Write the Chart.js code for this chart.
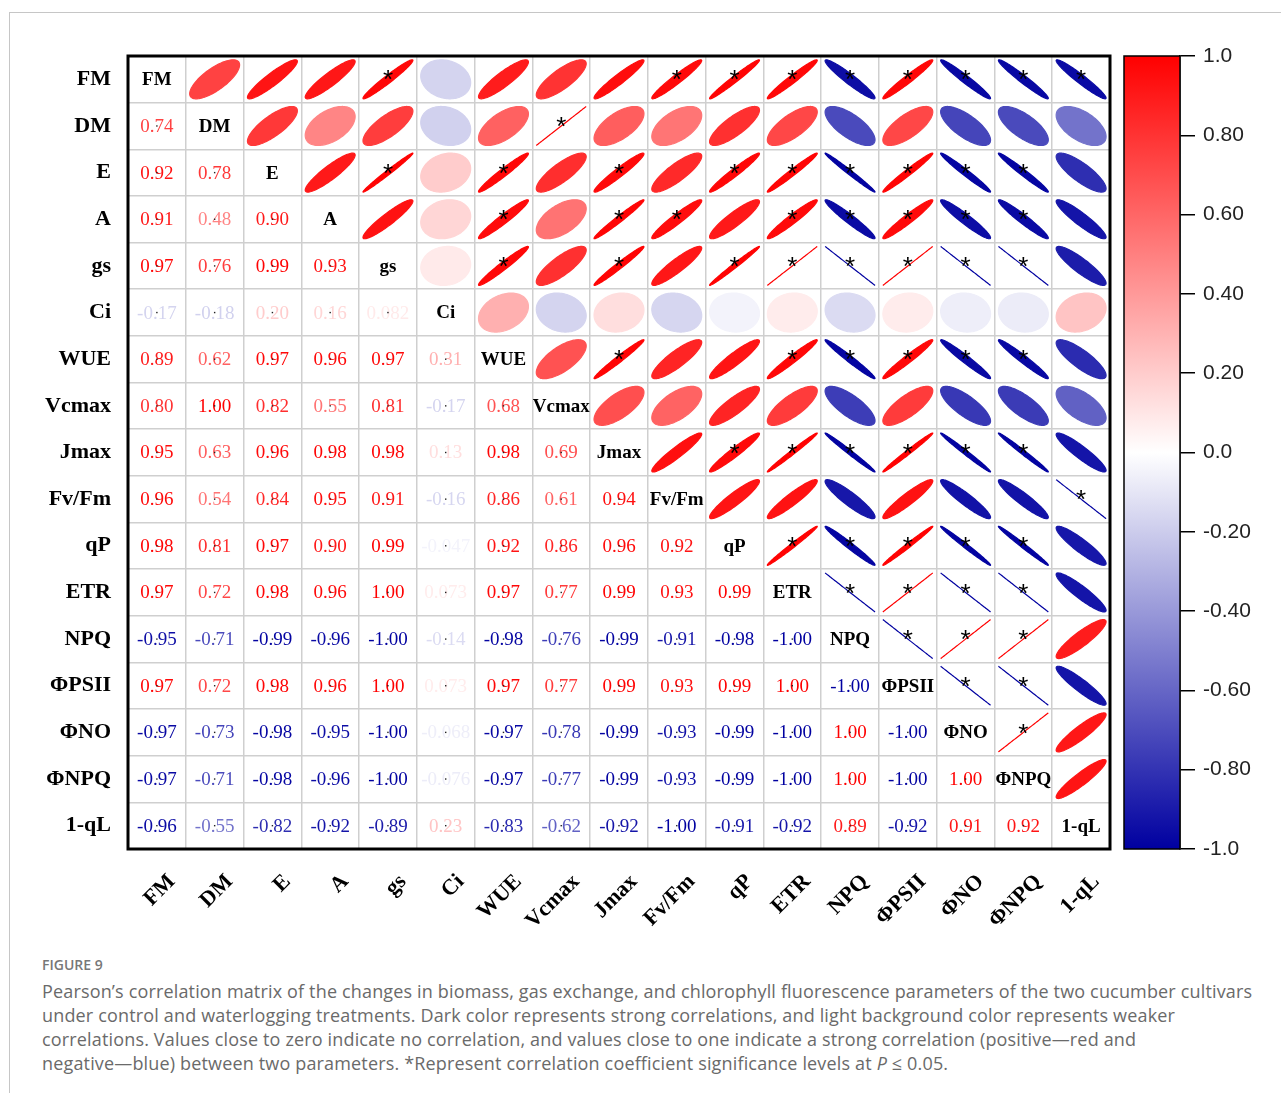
<!DOCTYPE html>
<html>
<head>
<meta charset="utf-8">
<script src="https://cdn.jsdelivr.net/npm/chart.js@4.4.1/dist/chart.umd.min.js"></script>
<style>
    html, body { margin: 0; padding: 0; background: #fff; }
    body { width: 1281px; height: 1093px; position: relative; overflow: hidden; }
    .frame { position: absolute; left: 9px; top: 12px; right: 0; bottom: 0;
             border-top: 1px solid #c6c6c6; border-left: 1px solid #c6c6c6; }
    #wrap { position: absolute; left: 10px; top: 13px; width: 1271px; height: 925px; }
    .fig { position: absolute; left: 42px; top: 955px; font-family: "Open Sans", sans-serif;
           font-size: 14px; font-weight: 600; color: #777; }
    .txt { position: absolute; left: 42px; top: 979px; font-family: "Open Sans", sans-serif;
           font-size: 18px; letter-spacing: 0.16px; line-height: 24px; color: #6a6a6a; white-space: nowrap; }
</style>
</head>
<body>
<div class="frame"></div>
<div id="wrap"><canvas id="corrChart" width="1271" height="925"></canvas></div>
<div class="fig">FIGURE 9</div>
<div class="txt">Pearson’s correlation matrix of the changes in biomass, gas exchange, and chlorophyll fluorescence parameters of the two cucumber cultivars<br>under control and waterlogging treatments. Dark color represents strong correlations, and light background color represents weaker<br>correlations. Values close to zero indicate no correlation, and values close to one indicate a strong correlation (positive—red and<br>negative—blue) between two parameters. *Represent correlation coefficient significance levels at <i>P</i> ≤ 0.05.</div>

<script>
const varNames = ['FM', 'DM', 'E', 'A', 'gs', 'Ci', 'WUE', 'Vcmax', 'Jmax', 'Fv/Fm',
                  'qP', 'ETR', 'NPQ', 'ΦPSII', 'ΦNO', 'ΦNPQ', '1-qL'];

// lower triangle: row i holds r(i, 0..i-1)
const lowerRows = [
    [],
    [0.74],
    [0.92, 0.78],
    [0.91, 0.48, 0.90],
    [0.97, 0.76, 0.99, 0.93],
    [-0.17, -0.18, 0.20, 0.16, 0.082],
    [0.89, 0.62, 0.97, 0.96, 0.97, 0.31],
    [0.80, 1.00, 0.82, 0.55, 0.81, -0.17, 0.68],
    [0.95, 0.63, 0.96, 0.98, 0.98, 0.13, 0.98, 0.69],
    [0.96, 0.54, 0.84, 0.95, 0.91, -0.16, 0.86, 0.61, 0.94],
    [0.98, 0.81, 0.97, 0.90, 0.99, -0.047, 0.92, 0.86, 0.96, 0.92],
    [0.97, 0.72, 0.98, 0.96, 1.00, 0.073, 0.97, 0.77, 0.99, 0.93, 0.99],
    [-0.95, -0.71, -0.99, -0.96, -1.00, -0.14, -0.98, -0.76, -0.99, -0.91, -0.98, -1.00],
    [0.97, 0.72, 0.98, 0.96, 1.00, 0.073, 0.97, 0.77, 0.99, 0.93, 0.99, 1.00, -1.00],
    [-0.97, -0.73, -0.98, -0.95, -1.00, -0.068, -0.97, -0.78, -0.99, -0.93, -0.99, -1.00, 1.00, -1.00],
    [-0.97, -0.71, -0.98, -0.96, -1.00, -0.076, -0.97, -0.77, -0.99, -0.93, -0.99, -1.00, 1.00, -1.00, 1.00],
    [-0.96, -0.55, -0.82, -0.92, -0.89, 0.23, -0.83, -0.62, -0.92, -1.00, -0.91, -0.92, 0.89, -0.92, 0.91, 0.92]
];

// significant pairs (*), upper triangle: row -> columns
const sigCols = [
    ['gs', 'Fv/Fm', 'qP', 'ETR', 'NPQ', 'ΦPSII', 'ΦNO', 'ΦNPQ', '1-qL'],
    ['Vcmax'],
    ['gs', 'WUE', 'Jmax', 'qP', 'ETR', 'NPQ', 'ΦPSII', 'ΦNO', 'ΦNPQ'],
    ['WUE', 'Jmax', 'Fv/Fm', 'ETR', 'NPQ', 'ΦPSII', 'ΦNO', 'ΦNPQ'],
    ['WUE', 'Jmax', 'qP', 'ETR', 'NPQ', 'ΦPSII', 'ΦNO', 'ΦNPQ'],
    [],
    ['Jmax', 'ETR', 'NPQ', 'ΦPSII', 'ΦNO', 'ΦNPQ'],
    [],
    ['qP', 'ETR', 'NPQ', 'ΦPSII', 'ΦNO', 'ΦNPQ'],
    ['1-qL'],
    ['ETR', 'NPQ', 'ΦPSII', 'ΦNO', 'ΦNPQ'],
    ['NPQ', 'ΦPSII', 'ΦNO', 'ΦNPQ'],
    ['ΦPSII', 'ΦNO', 'ΦNPQ'],
    ['ΦNO', 'ΦNPQ'],
    ['ΦNPQ'],
    [],
    []
];

const colorbarTicks = [-1, -0.8, -0.6, -0.4, -0.2, 0, 0.2, 0.4, 0.6, 0.8, 1];

function corr(i, j) {
    return i > j ? lowerRows[i][j] : lowerRows[j][i];
}

function corrColor(r) {
    const a = Math.min(1, Math.abs(r));
    const c = Math.round(255 * (1 - a));
    if (r >= 0) return 'rgb(255,' + c + ',' + c + ')';
    return 'rgb(' + c + ',' + c + ',' + Math.round(255 - 95 * a) + ')';
}

function fmt(r) {
    return Math.abs(r) < 0.1 ? r.toPrecision(2) : r.toFixed(2);
}

const upperPts = [], lowerPts = [], diagPts = [];
varNames.forEach((rowName, i) => {
    varNames.forEach((colName, j) => {
        if (i === j) diagPts.push({ x: colName, y: rowName, name: rowName });
        else if (j > i) upperPts.push({ x: colName, y: rowName, r: corr(i, j), sig: sigCols[i].includes(colName) });
        else lowerPts.push({ x: colName, y: rowName, r: corr(i, j) });
    });
});

const cellPlugin = {
    id: 'corrCells',
    afterDatasetsDraw(chart) {
        const ctx = chart.ctx;
        const xs = chart.scales.x, ys = chart.scales.y;
        const cw = Math.abs(xs.getPixelForValue(1) - xs.getPixelForValue(0));
        const ch = Math.abs(ys.getPixelForValue(1) - ys.getPixelForValue(0));
        ctx.save();

        // ellipses
        chart.getDatasetMeta(0).data.forEach((pt, k) => {
            const d = upperPts[k];
            const ang = Math.acos(Math.max(-1, Math.min(1, d.r)));
            const sx = cw * 0.432, sy = ch * 0.418;
            ctx.beginPath();
            for (let s = 0; s <= 120; s++) {
                const t = s / 120 * Math.PI * 2;
                const px = pt.x + Math.cos(t + ang / 2) * sx;
                const py = pt.y - Math.cos(t - ang / 2) * sy;
                if (s === 0) ctx.moveTo(px, py); else ctx.lineTo(px, py);
            }
            ctx.closePath();
            ctx.fillStyle = corrColor(d.r);
            ctx.strokeStyle = corrColor(d.r);
            ctx.lineWidth = 1.2;
            ctx.fill();
            ctx.stroke();
            if (d.sig) {
                ctx.fillStyle = '#000';
                ctx.font = '26px "Liberation Sans", Arial, sans-serif';
                ctx.textAlign = 'center';
                ctx.textBaseline = 'middle';
                ctx.fillText('*', pt.x, pt.y + 2);
            }
        });

        // numbers
        ctx.font = '19px "Liberation Serif", "Times New Roman", serif';
        ctx.textAlign = 'center';
        ctx.textBaseline = 'middle';
        chart.getDatasetMeta(1).data.forEach((pt, k) => {
            const d = lowerPts[k];
            ctx.fillStyle = corrColor(d.r);
            ctx.fillText(fmt(d.r), pt.x, pt.y + 1);
            ctx.fillStyle = '#222';
            ctx.fillRect(pt.x - 0.7, pt.y - 0.7, 1.4, 1.4);
        });

        // diagonal names
        ctx.font = 'bold 19px "Liberation Serif", "Times New Roman", serif';
        ctx.fillStyle = '#000';
        chart.getDatasetMeta(2).data.forEach((pt, k) => {
            ctx.fillText(diagPts[k].name, pt.x, pt.y + 1);
        });

        // colorbar
        const cb = chart.scales.cb, gap = chart.scales.gap;
        const top = cb.getPixelForValue(1), bot = cb.getPixelForValue(-1);
        const left = gap.left + 14, right = cb.left;
        const grad = ctx.createLinearGradient(0, top, 0, bot);
        colorbarTicks.forEach(v => grad.addColorStop((1 - v) / 2, corrColor(v)));
        ctx.fillStyle = grad;
        ctx.fillRect(left, top, right - left, bot - top);
        ctx.strokeStyle = '#000';
        ctx.lineWidth = 1.5;
        ctx.strokeRect(left, top, right - left, bot - top);

        // matrix frame
        const a = chart.chartArea;
        ctx.lineWidth = 3;
        ctx.strokeRect(a.left, a.top, a.right - a.left, a.bottom - a.top);
        ctx.restore();
    }
};

const labelFont = { family: '"Liberation Serif", "Times New Roman", serif', size: 22, weight: 'bold' };

new Chart(document.getElementById('corrChart'), {
    type: 'scatter',
    data: {
        datasets: [
            { label: 'upper', data: upperPts, pointRadius: 0 },
            { label: 'lower', data: lowerPts, pointRadius: 0 },
            { label: 'diag', data: diagPts, pointRadius: 0 }
        ]
    },
    options: {
        responsive: false,
        animation: false,
        devicePixelRatio: 1,
        layout: { padding: { top: 43, left: 0, right: 0, bottom: 0 } },
        plugins: { legend: { display: false }, tooltip: { enabled: false } },
        scales: {
            x: {
                type: 'category',
                labels: varNames,
                offset: true,
                grid: { offset: true, color: '#cfcfcf', lineWidth: 1.5, drawTicks: false },
                border: { display: false },
                ticks: {
                    autoSkip: false, minRotation: 45, maxRotation: 45,
                    font: labelFont, color: '#000', padding: 20, labelOffset: 15
                },
                afterFit: s => { s.height = 89; }
            },
            y: {
                type: 'category',
                labels: varNames,
                offset: true,
                grid: { offset: true, color: '#cfcfcf', lineWidth: 1.5, drawTicks: false },
                border: { display: false },
                ticks: { autoSkip: false, font: labelFont, color: '#000', padding: 17 },
                afterFit: s => { s.width = 118; }
            },
            gap: {
                type: 'linear', axis: 'y', position: 'right', weight: 0,
                grid: { display: false }, border: { display: false }, ticks: { display: false },
                afterFit: s => { s.width = 70; }
            },
            cb: {
                type: 'linear', axis: 'y', position: 'right', weight: 5,
                min: -1, max: 1,
                afterBuildTicks: s => { s.ticks = colorbarTicks.map(v => ({ value: v })); },
                grid: { drawOnChartArea: false, tickLength: 15, color: '#000', lineWidth: 1.5 },
                border: { display: true, color: '#000', width: 1.5 },
                ticks: {
                    font: { family: '"Liberation Sans", Arial, sans-serif', size: 21 },
                    color: '#222', padding: 8,
                    callback: v => (v === 0 ? '0.0' : Math.abs(v) === 1 ? v.toFixed(1) : v.toFixed(2))
                },
                afterFit: s => { s.width = 101; }
            }
        }
    },
    plugins: [cellPlugin]
});
</script>
</body>
</html>
